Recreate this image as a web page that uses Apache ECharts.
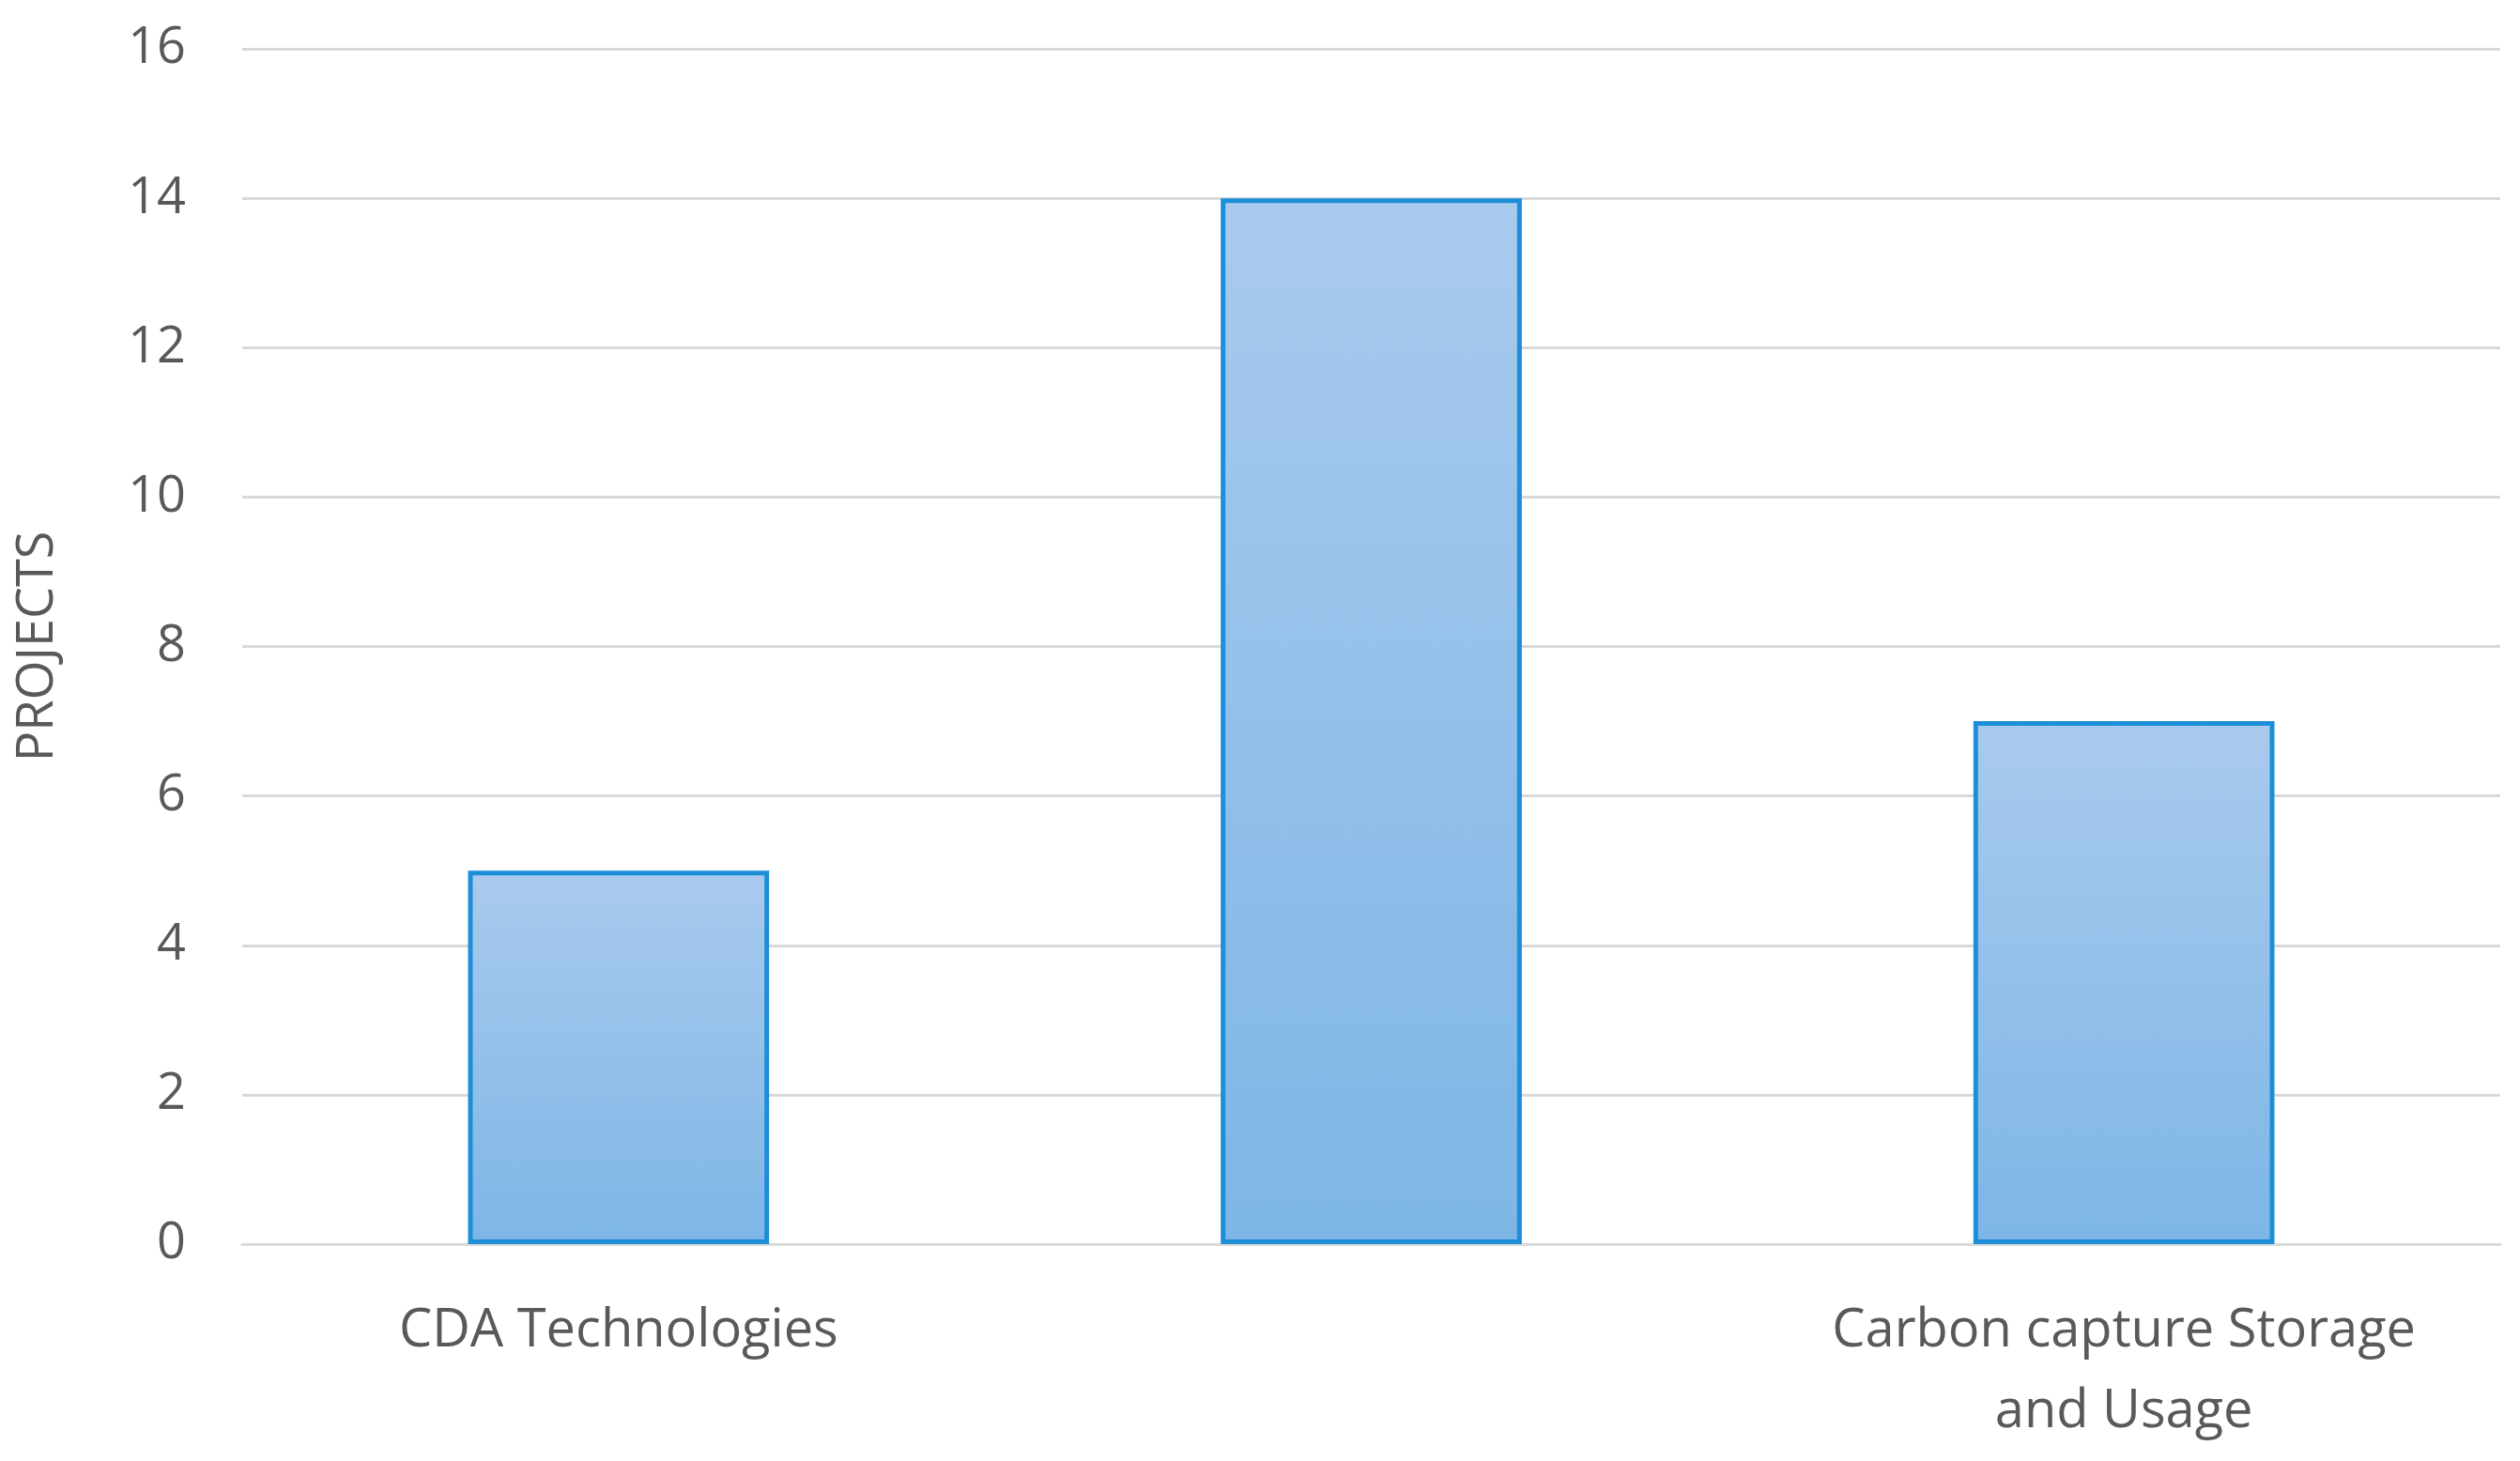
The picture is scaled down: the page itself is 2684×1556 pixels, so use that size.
<!DOCTYPE html>
<html><head><meta charset="utf-8">
<script src="https://cdn.jsdelivr.net/npm/echarts@6/dist/echarts.min.js"></script>
<style>html,body{margin:0;background:#fff}#c{width:2684px;height:1556px}</style>
</head><body><div id="c"></div>
<script>
var categories = ["CDA Technologies", "Process Integration", "Carbon capture Storage\nand Usage"];
var projects = [5, 14, 7];

var chart = echarts.init(document.getElementById("c"));
chart.setOption({
  animation: false,
  grid: { left: 258, right: 21, top: 52, bottom: 231 },
  xAxis: {
    type: "category",
    data: categories,
    axisLine: { lineStyle: { color: "#d9d9d9", width: 3 } },
    axisTick: { show: false },
    axisLabel: { color: "#595959", fontSize: 56, fontFamily: "Open Sans", margin: 50, lineHeight: 86 }
  },
  yAxis: {
    type: "value", min: 0, max: 16, interval: 2,
    name: "PROJECTS", nameLocation: "middle", nameGap: 190, nameRotate: 90,
    nameTextStyle: { color: "#595959", fontSize: 54, fontFamily: "Open Sans" },
    axisLine: { show: false },
    axisLabel: { color: "#595959", fontSize: 54, fontFamily: "Open Sans", margin: 60 },
    splitLine: { lineStyle: { color: "#d9d9d9", width: 3 } }
  },
  series: [{
    type: "bar",
    data: projects,
    barCategoryGap: "60%",
    itemStyle: {
      color: new echarts.graphic.LinearGradient(0, 0, 0, 1, [
        { offset: 0, color: "#a9caed" },
        { offset: 1, color: "#7db6e6" }
      ]),
      borderColor: "#1d8ed8",
      borderWidth: 5
    }
  }]
});
</script></body></html>
